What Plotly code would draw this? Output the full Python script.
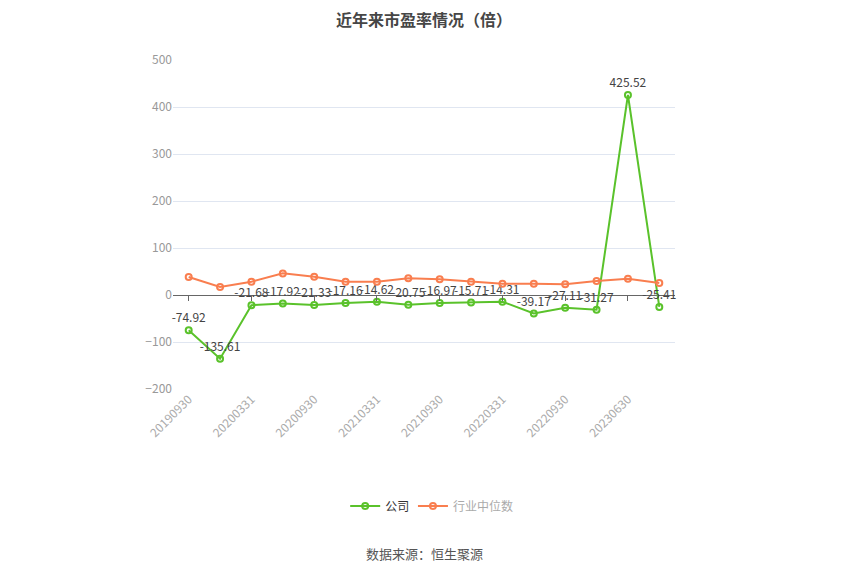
import plotly.graph_objects as go

# Data
dates = ["20190930", "20191231", "20200331", "20200630", "20200930", "20201231",
         "20210331", "20210630", "20210930", "20211231", "20220331", "20220630",
         "20220930", "20230331", "20230630", "20230930"]
company_pe = [-74.92, -135.61, -21.68, -17.92, -21.33, -17.16, -14.62, -20.75,
              -16.97, -15.71, -14.31, -39.17, -27.11, -31.27, 425.52, -25.41]
industry_median = [38.3, 17.0, 28.3, 46.0, 39.0, 28.2, 28.0, 35.5,
                   33.4, 28.3, 24.0, 24.0, 22.8, 29.8, 34.7, 25.5]
tick_dates = dates[0::2][:7] + ["20230630"]

green = "#5ac22b"
orange = "#f97e4f"
font = "Noto Sans CJK SC"

fig = go.Figure()
fig.add_trace(go.Scatter(
    x=dates, y=company_pe, name="公司", mode="lines+markers+text",
    line=dict(color=green, width=2),
    marker=dict(symbol="circle-open", size=6, color=green, line=dict(width=2)),
    text=[f"{v:.2f}" for v in company_pe], textposition="top center",
    textfont=dict(size=12, color="#444", family=font),
    legend="legend", cliponaxis=False))
fig.add_trace(go.Scatter(
    x=dates, y=industry_median, name="行业中位数", mode="lines+markers",
    line=dict(color=orange, width=2),
    marker=dict(symbol="circle-open", size=6, color=orange, line=dict(width=2)),
    legend="legend2"))
# invisible trace on a second x axis, used to put tick marks on the zero line
fig.add_trace(go.Scatter(x=dates, y=[0] * len(dates), xaxis="x2", mode="lines",
                         line=dict(width=0), showlegend=False, hoverinfo="skip"))

zero_pos = 200 / 700

fig.update_layout(
    width=850, height=574,
    margin=dict(l=165, r=183, t=52, b=193),
    paper_bgcolor="white", plot_bgcolor="white",
    font=dict(family=font, color="#999", size=12),
    title=dict(text="<b>近年来市盈率情况（倍）</b>", x=0.5, xref="paper",
               y=0.978, yanchor="middle",
               font=dict(size=16, color="#464646", family=font)),
    xaxis=dict(type="category", categoryorder="array", categoryarray=dates,
               tickvals=tick_dates, ticktext=tick_dates, tickangle=-45,
               tickfont=dict(size=12, color="#aaa"), showgrid=False,
               showline=False, ticks="", range=[-0.5, 15.5]),
    xaxis2=dict(type="category", categoryorder="array", categoryarray=dates,
                overlaying="x", anchor="free", position=zero_pos, side="bottom",
                tickvals=tick_dates, showticklabels=False, ticks="outside",
                ticklen=5, tickcolor="#666", showline=False, showgrid=False,
                range=[-0.5, 15.5]),
    yaxis=dict(range=[-200, 500], dtick=100, showgrid=True, gridcolor="#e0e6f1",
               zeroline=True, zerolinecolor="#666", zerolinewidth=1,
               tickfont=dict(size=12, color="#999"), ticks="", showline=False),
    legend=dict(orientation="h", x=0.343, y=-0.356, xanchor="left", yanchor="middle",
                font=dict(size=12, color="#333"), bgcolor="rgba(0,0,0,0)"),
    legend2=dict(orientation="h", x=0.478, y=-0.356, xanchor="left", yanchor="middle",
                 font=dict(size=12, color="#aaa"), bgcolor="rgba(0,0,0,0)"),
    annotations=[dict(text="数据来源：恒生聚源", x=0.5, y=-0.535, xref="paper",
                      yref="paper", showarrow=False,
                      font=dict(size=13, color="#555", family=font))],
    showlegend=True,
)

fig.write_html("out.html")
